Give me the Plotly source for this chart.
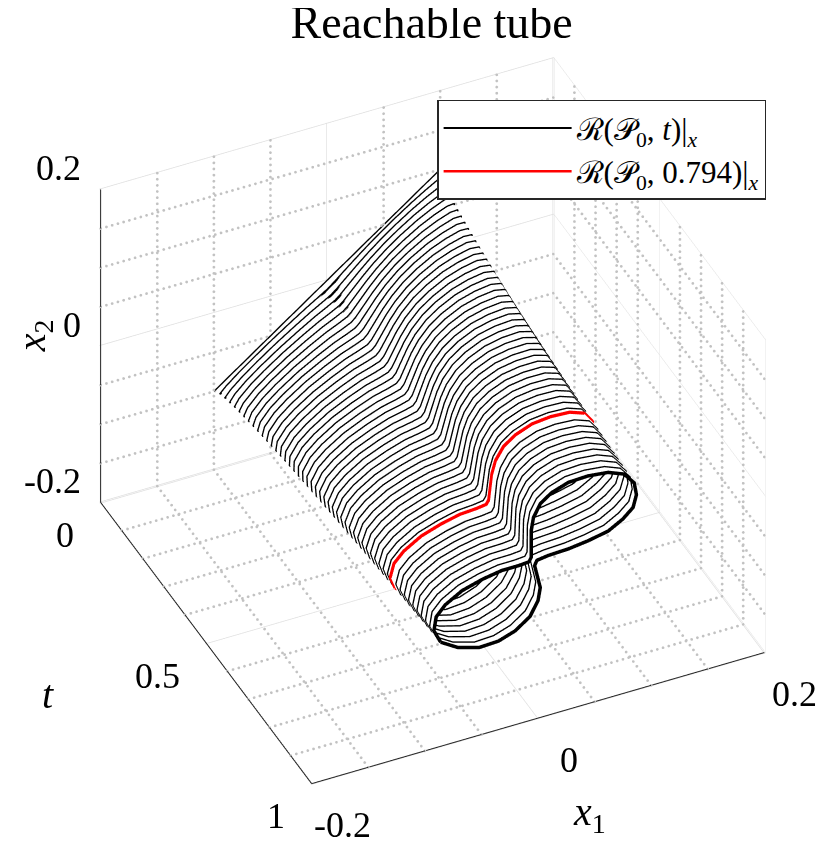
import numpy as np
import plotly.graph_objects as go

# time stamps of the tube slices (the red one is t = 0.794)
times = [0.00, 0.02, 0.04, 0.06, 0.08, 0.10, 0.12, 0.14, 0.16, 0.18,
         0.20, 0.22, 0.24, 0.26, 0.28, 0.30, 0.32, 0.34, 0.36, 0.38,
         0.40, 0.42, 0.44, 0.46, 0.48, 0.50, 0.52, 0.54, 0.56, 0.58,
         0.60, 0.62, 0.64, 0.66, 0.68, 0.70, 0.72, 0.74, 0.76, 0.78,
         0.794, 0.82, 0.84, 0.86, 0.88, 0.90, 0.92, 0.94, 0.96, 0.98, 1.00]
# how far each slice has opened up from the initial segment towards the final shape
deform = [0.0, 0.096, 0.145, 0.185, 0.22, 0.25, 0.28, 0.307, 0.333, 0.358,
          0.381, 0.403, 0.425, 0.446, 0.466, 0.486, 0.505, 0.524, 0.542, 0.56,
          0.577, 0.594, 0.611, 0.628, 0.644, 0.66, 0.675, 0.691, 0.706, 0.721,
          0.736, 0.751, 0.765, 0.78, 0.793, 0.807, 0.821, 0.835, 0.848, 0.862,
          0.871, 0.888, 0.901, 0.913, 0.926, 0.939, 0.951, 0.964, 0.976, 0.988, 1.0]
red_t = 0.794

# initial set P0 (a segment)
p0_x1 = [-0.1, 0.1]
p0_x2 = [-0.1, 0.1]

# outline of R(P0, 1) (pinched figure eight), read off the front slice:
# upper side from the left tip to the right tip, then the lower side back
final_x1 = [-0.086, -0.092, -0.090, -0.082, -0.067, -0.049, -0.032, -0.017, -0.008, -0.006,
            -0.006, -0.006, -0.004, 0.002, 0.012, 0.027, 0.044, 0.062, 0.076,
            0.085, 0.087, 0.084, 0.075, 0.062, 0.044, 0.027, 0.009, -0.001, -0.003,
            -0.001, 0.002, 0.000, -0.007, -0.020, -0.035, -0.052, -0.071, -0.086]
final_x2 = [-0.067, -0.050, -0.033, -0.021, -0.009, -0.002, 0.002, 0.002, 0.003, 0.008,
            0.021, 0.042, 0.058, 0.073, 0.083, 0.090, 0.091, 0.088, 0.080,
            0.065, 0.049, 0.034, 0.023, 0.013, 0.008, 0.005, 0.004, 0.002, -0.004,
            -0.016, -0.034, -0.050, -0.067, -0.080, -0.087, -0.088, -0.080, -0.067]

x1_range = [-0.2, 0.2]
t_range = [0, 1]
x2_range = [-0.2, 0.2]
x1_ticks = [-0.2, 0, 0.2]
t_ticks = [0, 0.5, 1]
x2_ticks = [-0.2, 0, 0.2]
x1_labels = ["-0.2", "0", "0.2"]
t_labels = ["0", "0.5", "1"]
x2_labels = ["-0.2", "0", "0.2"]
x1_minor = [-0.15, -0.1, -0.05, 0.05, 0.1, 0.15]
t_minor = [0.1, 0.2, 0.3, 0.4, 0.6, 0.7, 0.8, 0.9]
x2_minor = [-0.15, -0.1, -0.05, 0.05, 0.1, 0.15]

FONT = "Liberation Serif"

# --- build slices in (along P0, across P0) coordinates:
# stretch along the segment shrinks from the P0 length to the final length,
# the across part opens up with deform
fx = np.array(final_x1)
fy = np.array(final_x2)
u_f = (fx + fy) / np.sqrt(2)
v_f = (fy - fx) / np.sqrt(2)
half_len = np.hypot(p0_x1[1] - p0_x1[0], p0_x2[1] - p0_x2[0]) / 2
u_scale0 = np.where(u_f >= 0, half_len / u_f.max(), -half_len / u_f.min())
cx0 = (p0_x1[0] + p0_x1[1]) / 2
cy0 = (p0_x2[0] + p0_x2[1]) / 2

slices = []
for t, g in zip(times, deform):
    u = (u_scale0 + (1 - u_scale0) * g) * u_f
    v = g * v_f
    slices.append((t, cx0 + (u - v) / np.sqrt(2), cy0 + (u + v) / np.sqrt(2)))


def join(items):
    X, Y, Z = [], [], []
    for t, cx, cy in items:
        X += list(cx) + [None]
        Y += [t] * len(cx) + [None]
        Z += list(cy) + [None]
    return X, Y, Z


fig = go.Figure()

lo1, hi1 = x1_range
lo2, hi2 = x2_range
t0, t1 = t_range

# dotted minor grid on the back walls (drawn as rows of dots)
gx, gy, gz = [], [], []


def dots(p, q, n):
    for k in np.linspace(0, 1, n):
        gx.append(p[0] + k * (q[0] - p[0]))
        gy.append(p[1] + k * (q[1] - p[1]))
        gz.append(p[2] + k * (q[2] - p[2]))


for v in x1_minor:
    dots((v, t0, lo2), (v, t0, hi2), 52)
    dots((v, t0, lo2), (v, t1, lo2), 60)
for v in x2_minor:
    dots((lo1, t0, v), (hi1, t0, v), 80)
    dots((hi1, t0, v), (hi1, t1, v), 60)
for v in t_minor:
    dots((hi1, v, lo2), (hi1, v, hi2), 52)
    dots((lo1, v, lo2), (hi1, v, lo2), 80)
fig.add_trace(go.Scatter3d(x=gx, y=gy, z=gz, mode="markers",
                           marker=dict(color="#c2c2c2", size=1.6, line=dict(width=0)),
                           hoverinfo="skip", showlegend=False))

# dark axis lines (x2 at the back-left edge, t along the floor, x1 at the front)
fig.add_trace(go.Scatter3d(
    x=[lo1, lo1, None, lo1, lo1, None, lo1, hi1],
    y=[t0, t0, None, t0, t1, None, t1, t1],
    z=[lo2, hi2, None, lo2, lo2, None, lo2, lo2],
    mode="lines", line=dict(color="#262626", width=2), hoverinfo="skip", showlegend=False))

# white tube surface, pushed slightly away from the viewer, hides back lines
eye = np.array([-0.331, -0.710, 0.621])
d = eye / np.linalg.norm(eye)
eps = 0.006
shift = -eps * np.array([d[0] * 0.4, -d[1] * 1.0, d[2] * 0.5])
SX = np.array([c[1] for c in slices]) + shift[0]
SY = np.array([[c[0]] * len(fx) for c in slices]) + shift[1]
SZ = np.array([c[2] for c in slices]) + shift[2]
fig.add_trace(go.Surface(x=SX, y=SY, z=SZ, surfacecolor=np.zeros_like(SX),
                         colorscale=[[0, "white"], [1, "white"]], showscale=False,
                         lighting=dict(ambient=1, diffuse=0, specular=0, fresnel=0, roughness=1),
                         hoverinfo="skip"))

thin = [c for c in slices if c[0] not in (red_t, 1.0)]
red = [c for c in slices if c[0] == red_t]
last = [c for c in slices if c[0] == 1.0]

X, Y, Z = join(thin)
fig.add_trace(go.Scatter3d(x=X, y=Y, z=Z, mode="lines", line=dict(color="black", width=2.7),
                           hoverinfo="skip", showlegend=False))
X, Y, Z = join(red)
fig.add_trace(go.Scatter3d(x=X, y=Y, z=Z, mode="lines", line=dict(color="#ff0000", width=6.5),
                           hoverinfo="skip", showlegend=False))
X, Y, Z = join(last)
fig.add_trace(go.Scatter3d(x=X, y=Y, z=Z, mode="lines", line=dict(color="black", width=7),
                           hoverinfo="skip", showlegend=False))

# legend entries
fig.add_trace(go.Scatter3d(x=[None], y=[None], z=[None], mode="lines",
                           line=dict(color="black", width=2),
                           name="ℛ(𝒫<sub>0</sub>, <i>t</i>)|<sub><i>x</i></sub>"))
fig.add_trace(go.Scatter3d(x=[None], y=[None], z=[None], mode="lines",
                           line=dict(color="#ff0000", width=2.5),
                           name="ℛ(𝒫<sub>0</sub>, 0.794)|<sub><i>x</i></sub>"))

tick_font = dict(family=FONT, size=36, color="black")
title_font = dict(family=FONT, size=40, color="black")
ann = []
for v, txt in zip(x2_ticks, x2_labels):
    ann.append(dict(x=lo1, y=t0, z=v, text=txt, showarrow=False, xanchor="right",
                    yanchor="middle", xshift=-17, yshift=21, font=tick_font))
for v, txt in zip(t_ticks, t_labels):
    ann.append(dict(x=lo1, y=v, z=lo2, text=txt, showarrow=False, xanchor="right",
                    yanchor="middle", xshift=-24, yshift=-33, font=tick_font))
for v, txt in zip(x1_ticks, x1_labels):
    ann.append(dict(x=v, y=t1, z=lo2, text=txt, showarrow=False, xanchor="center",
                    yanchor="middle", xshift=31, yshift=-42, font=tick_font))
ann.append(dict(x=lo1, y=t0, z=0, text="<i>x</i><sub>2</sub>", showarrow=False,
                xanchor="center", yanchor="middle", xshift=-67, yshift=10, textangle=-90,
                font=title_font))
ann.append(dict(x=lo1, y=0.5, z=lo2, text="<i>t</i>", showarrow=False,
                xanchor="center", yanchor="middle", xshift=-158, yshift=-52, font=title_font))
ann.append(dict(x=0, y=t1, z=lo2, text="<i>x</i><sub>1</sub>", showarrow=False,
                xanchor="center", yanchor="middle", xshift=52, yshift=-96, font=title_font))

axis_style = dict(showgrid=True, gridcolor="#dedede", gridwidth=1.5, zeroline=False,
                  showline=False, ticks="", showticklabels=False, title=dict(text=""),
                  showbackground=False, showspikes=False)

pad = 0.002  # keeps marks lying on the box faces off the clipping planes
fig.update_layout(
    width=830, height=846,
    margin=dict(l=0, r=0, t=0, b=0),
    paper_bgcolor="white",
    title=dict(text="Reachable tube", x=0.5104, xanchor="center", y=0.983, yanchor="middle",
               font=dict(family=FONT, size=46, color="black")),
    legend=dict(x=0.517, y=0.8915, xanchor="left", yanchor="top", itemwidth=128,
                bordercolor="#262626", borderwidth=1.5, bgcolor="white",
                font=dict(family=FONT, size=31, color="black")),
    scene=dict(
        xaxis=dict(range=[lo1 - pad * 0.4, hi1 + pad * 0.4], tickvals=x1_ticks, **axis_style),
        yaxis=dict(range=[t1 + pad, t0 - pad], tickvals=t_ticks, **axis_style),
        zaxis=dict(range=[lo2 - pad * 0.4, hi2 + pad * 0.4], tickvals=x2_ticks, **axis_style),
        aspectmode="manual", aspectratio=dict(x=1.214, y=1.214, z=0.971),
        camera=dict(eye=dict(x=eye[0], y=eye[1], z=eye[2]), up=dict(x=0, y=0, z=1),
                    projection=dict(type="orthographic")),
        domain=dict(x=[0.031, 0.991], y=[0.024, 1]),
        annotations=ann,
    ),
)

fig.write_html("out.html")
